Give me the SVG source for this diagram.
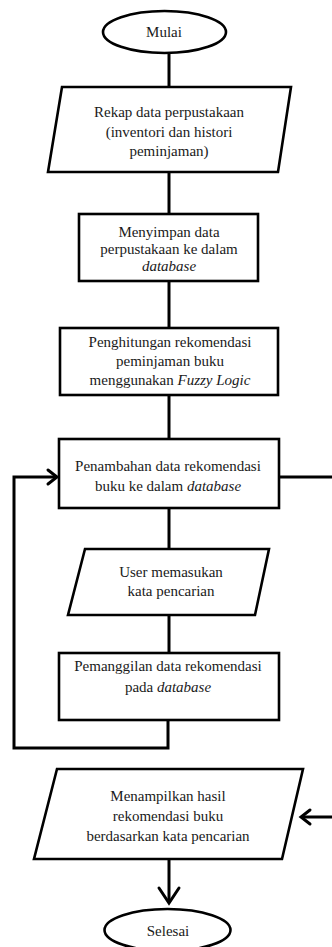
<svg xmlns="http://www.w3.org/2000/svg" width="332" height="947" viewBox="0 0 332 947">
  <style>
    .shape { fill: #ffffff; stroke: #000000; stroke-width: 2.6; }
    .link { fill: none; stroke: #000000; stroke-width: 3; }
    .head { fill: none; stroke: #000000; stroke-width: 3; stroke-linecap: round; stroke-linejoin: miter; }
    text { font-family: "Liberation Serif", "Times New Roman", serif; font-size: 15px; fill: #1a1a1a; text-anchor: middle; }
    .it { font-style: italic; }
  </style>
  <rect x="0" y="0" width="332" height="947" fill="#ffffff"/>

  <!-- connectors -->
  <g id="connectors">
    <line class="link" x1="169" y1="53" x2="169" y2="86"/>
    <line class="link" x1="169" y1="172" x2="169" y2="214"/>
    <line class="link" x1="169" y1="281" x2="169" y2="328"/>
    <line class="link" x1="169" y1="395" x2="169" y2="439"/>
    <line class="link" x1="169" y1="508" x2="169" y2="549"/>
    <line class="link" x1="169" y1="615" x2="169" y2="653"/>
    <!-- loop back into Penambahan -->
    <polyline class="link" points="168,720 168,748 14,748 14,477 57,477"/>
    <polyline class="head" points="48,470 57,477 48,484"/>
    <!-- side route to Menampilkan -->
    <polyline class="link" points="279,477 335,477 335,817 301,817"/>
    <polyline class="head" points="310,810 301,817 310,824"/>
    <!-- to Selesai -->
    <line class="link" x1="169" y1="859" x2="169" y2="903"/>
    <polyline class="head" points="159,888 169,903 179,888"/>
  </g>

  <g id="mulai">
    <ellipse class="shape" cx="164.5" cy="32" rx="61.5" ry="21"/>
    <text x="164" y="37">Mulai</text>
  </g>

  <g id="rekap">
    <polygon class="shape" points="62,87 291,87 278,172 48,172"/>
    <text x="169" y="117">Rekap data perpustakaan</text>
    <text x="169" y="136.5">(inventori dan histori</text>
    <text x="169" y="156">peminjaman)</text>
  </g>

  <g id="menyimpan">
    <rect class="shape" x="79" y="214" width="179" height="67"/>
    <text x="169" y="237">Menyimpan data</text>
    <text x="169" y="254">perpustakaan ke dalam</text>
    <text x="169" y="271" class="it">database</text>
  </g>

  <g id="penghitungan">
    <rect class="shape" x="60" y="328" width="218" height="67"/>
    <text x="170" y="347">Penghitungan rekomendasi</text>
    <text x="170" y="366">peminjaman buku</text>
    <text x="170" y="385">menggunakan <tspan class="it">Fuzzy Logic</tspan></text>
  </g>

  <g id="penambahan">
    <rect class="shape" x="59" y="439" width="220" height="69"/>
    <text x="168" y="471">Penambahan data rekomendasi</text>
    <text x="168" y="491">buku ke dalam <tspan class="it">database</tspan></text>
  </g>

  <g id="user-input">
    <polygon class="shape" points="85,549 269,549 255,615 68,615"/>
    <text x="171" y="577">User memasukan</text>
    <text x="171" y="596">kata pencarian</text>
  </g>

  <g id="pemanggilan">
    <rect class="shape" x="59" y="653" width="220" height="67"/>
    <text x="168" y="671">Pemanggilan data rekomendasi</text>
    <text x="168" y="692">pada <tspan class="it">database</tspan></text>
  </g>

  <g id="menampilkan">
    <polygon class="shape" points="57,769 303,769 282,859 34,859"/>
    <text x="168" y="801">Menampilkan hasil</text>
    <text x="168" y="821">rekomendasi buku</text>
    <text x="168" y="841">berdasarkan kata pencarian</text>
  </g>

  <g id="selesai">
    <ellipse class="shape" cx="167.5" cy="930" rx="63" ry="21"/>
    <text x="168" y="936">Selesai</text>
  </g>
</svg>
